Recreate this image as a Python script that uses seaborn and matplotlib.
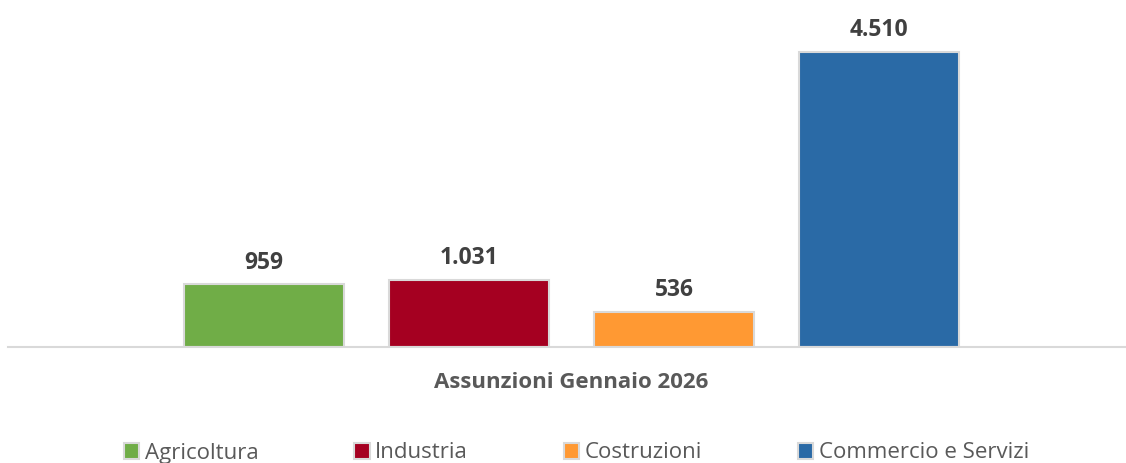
import matplotlib
matplotlib.use("Agg")
import matplotlib.pyplot as plt
import seaborn as sns
import pandas as pd

# Data
periodo = ["Assunzioni Gennaio 2026"]
settori = ["Agricoltura", "Industria", "Costruzioni", "Commercio e Servizi"]
assunzioni = [959, 1031, 536, 4510]
colori = ["#70AD47", "#A50021", "#FF9933", "#2A6AA6"]

df = pd.DataFrame({
    "periodo": periodo * len(settori),
    "settore": settori,
    "valore": assunzioni,
})

sns.set_style("white")
plt.rcParams['font.family'] = ['Open Sans', 'DejaVu Sans']

fig = plt.figure(figsize=(11.26, 4.63), dpi=100)
ax = fig.add_axes([8 / 1126, 116 / 463, 1118 / 1126, 347 / 463])

sns.barplot(
    data=df, x="periodo", y="valore", hue="settore",
    hue_order=settori, palette=colori, width=0.8, gap=0.22,
    edgecolor="#D9D9D9", linewidth=1.5, saturation=1, ax=ax,
)

ax.set_ylim(0, 4510 * 347 / 295)
ax.set_xlim(-0.550, 0.541)

# Value labels
for container in ax.containers:
    labels = [f"{int(b.get_height()):,}".replace(",", ".") for b in container]
    ax.bar_label(container, labels=labels, padding=7, fontsize=16.5,
                 fontweight='bold', color='#404040')

sns.despine(ax=ax, left=True, top=True, right=True)
ax.spines['bottom'].set_color('#D9D9D9')
ax.spines['bottom'].set_linewidth(1.5)
ax.set_yticks([])
ax.set_xlabel("")
ax.set_ylabel("")
ax.tick_params(axis='x', length=0, pad=18)
plt.setp(ax.get_xticklabels(), fontsize=16, fontweight='bold', color='#595959')

# Legend at bottom
handles, labels = ax.get_legend_handles_labels()
ax.legend_.remove()
leg = fig.legend(
    handles, labels, loc='center', bbox_to_anchor=(0.512, 10 / 463),
    ncol=4, frameon=False, fontsize=16, handlelength=0.7, handleheight=0.7,
    handletextpad=0.25, columnspacing=4.3,
)
for t in leg.get_texts():
    t.set_color('#595959')

fig.savefig("out.png", dpi=100)
